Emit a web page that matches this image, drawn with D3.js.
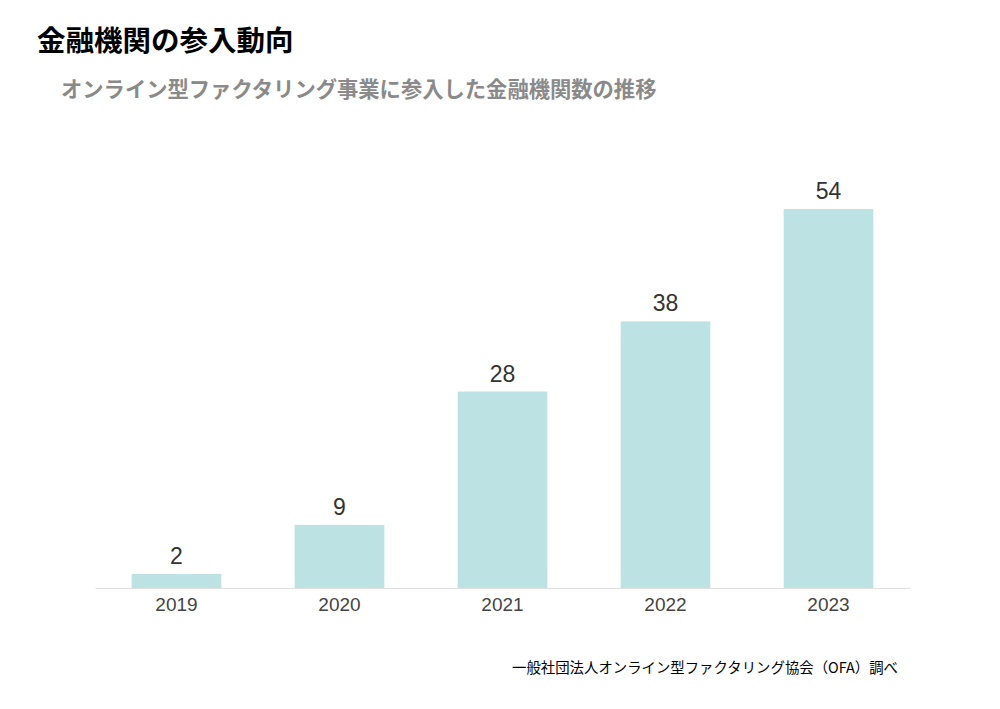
<!DOCTYPE html>
<html><head><meta charset="utf-8">
<script src="https://cdn.jsdelivr.net/npm/d3@7"></script>
<style>body{margin:0;background:#fff;} svg{display:block;font-family:"Noto Sans CJK JP","Noto Sans",sans-serif;}</style>
</head><body>
<svg id="c" width="1000" height="709"></svg>
<script>
const years = ["2019","2020","2021","2022","2023"];
const counts = [2, 9, 28, 38, 54];
const title = "金融機関の参入動向";
const subtitle = "オンライン型ファクタリング事業に参入した金融機関数の推移";
const source = "一般社団法人オンライン型ファクタリング協会（OFA）調べ";

const svg = d3.select("#c");
const x = d3.scaleBand().domain(years).range([95, 910]).paddingInner(0.45).paddingOuter(0.225);
const y = d3.scaleLinear().domain([0, 60]).range([588, 167]);

svg.append("text").attr("x", 37).attr("y", 51).attr("font-size", 28.5).attr("font-weight", "bold").attr("fill", "#000").text(title);
svg.append("text").attr("x", 61).attr("y", 97).attr("font-size", 21.3).attr("font-weight", "bold").attr("fill", "#8a8a8a").text(subtitle);

svg.selectAll("rect.bar").data(counts).enter().append("rect").attr("class","bar")
  .attr("x", (d,i)=>x(years[i])).attr("width", x.bandwidth())
  .attr("y", d=>y(d)).attr("height", d=>y(0)-y(d)).attr("fill", "#bce2e4");

svg.selectAll("text.val").data(counts).enter().append("text").attr("class","val")
  .attr("x", (d,i)=>x(years[i])+x.bandwidth()/2).attr("y", d=>y(d)-10)
  .attr("text-anchor","middle").attr("font-family","Liberation Sans, Arial, sans-serif")
  .attr("font-size", 23).attr("fill","#333").text(d=>d);

const ax = svg.append("g").attr("transform","translate(0,588)")
  .call(d3.axisBottom(x).tickSize(0).tickPadding(10));
ax.select(".domain").attr("stroke","#e0e0e0").attr("stroke-width",1.2);
ax.selectAll("text").attr("font-family","Liberation Sans, Arial, sans-serif").attr("font-size",19).attr("fill","#444");

svg.append("text").attr("x", 898).attr("y", 673).attr("text-anchor","end").attr("font-size", 14.4).attr("fill","#000").text(source);
</script>
</body></html>
